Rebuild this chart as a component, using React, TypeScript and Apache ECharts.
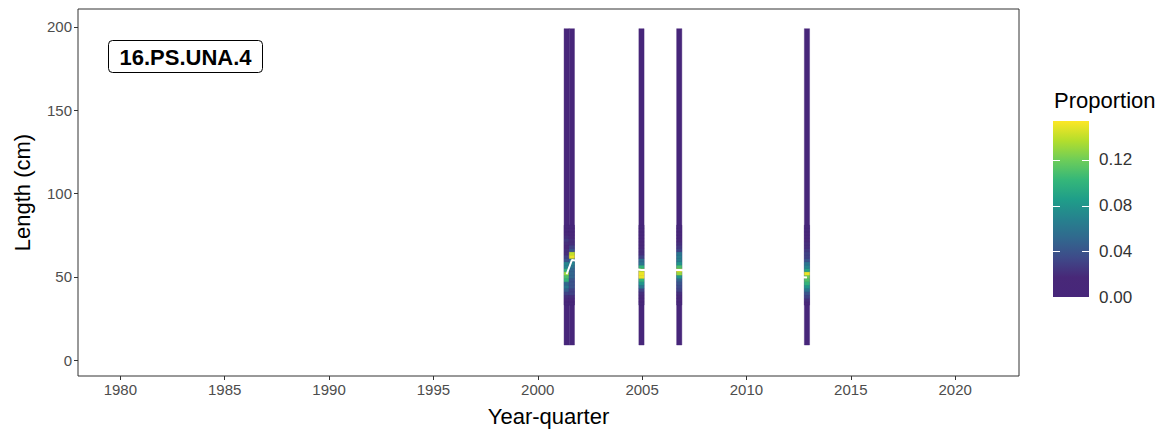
import React, { useEffect, useRef } from 'react';
import * as echarts from 'echarts';

// Year-quarter centres of the sampled columns
const quarters = [2001.385, 2001.635, 2004.97, 2006.78, 2012.9];
// Length bins (cm) that carry non-zero proportions
const binLengths = [34, 36, 38, 40, 42, 44, 46, 48, 50, 52, 54, 56, 58, 60, 62, 64, 66, 68, 70, 72, 74, 76, 78, 80];
const propA = [0.005, 0.01, 0.02, 0.03, 0.045, 0.06, 0.05, 0.1, 0.11, 0.13, 0.1, 0.07, 0.07, 0.04, 0.03, 0.02, 0.02, 0.015, 0.02, 0.025, 0.02, 0.01, 0.005, 0.005];
const propB = [0.005, 0.01, 0.02, 0.03, 0.03, 0.04, 0.04, 0.04, 0.05, 0.05, 0.05, 0.06, 0.07, 0.06, 0.15, 0.14, 0.04, 0.03, 0.02, 0.02, 0.015, 0.01, 0.005, 0.005];
const propC = [0.005, 0.01, 0.015, 0.02, 0.03, 0.06, 0.08, 0.1, 0.15, 0.15, 0.14, 0.1, 0.06, 0.055, 0.03, 0.02, 0.02, 0.015, 0.015, 0.01, 0.01, 0.005, 0.005, 0.005];
const propD = [0.005, 0.01, 0.015, 0.02, 0.03, 0.035, 0.04, 0.05, 0.08, 0.13, 0.15, 0.11, 0.08, 0.065, 0.065, 0.06, 0.03, 0.025, 0.02, 0.015, 0.01, 0.01, 0.005, 0.005];
const propE = [0.01, 0.02, 0.03, 0.04, 0.06, 0.08, 0.1, 0.11, 0.12, 0.15, 0.09, 0.07, 0.06, 0.04, 0.03, 0.03, 0.025, 0.02, 0.02, 0.015, 0.01, 0.01, 0.005, 0.005];
const proportions = [propA, propB, propC, propD, propE];
// Mean length per year-quarter (white line)
const meanLengths = [51.5, 60, 54, 54, 49.5];
// Full sampled length range of every column (cm)
const lengthRange = [9, 199];
const binWidth = 2;
const quarterWidth = 0.25;

const xTicks = [1980, 1985, 1990, 1995, 2000, 2005, 2010, 2015, 2020];
const yTicks = [0, 50, 100, 150, 200];
const legendTicks = [0, 0.04, 0.08, 0.12];
const colorMax = 0.154;
const viridis = ['#47267A', '#482878', '#3E4A89', '#31688E', '#26828E', '#1F9E89', '#35B779', '#6DCD59', '#B4DE2C', '#FDE725'];
const stockLabel = '16.PS.UNA.4';

const FONT = '"Liberation Sans", Arial, sans-serif';

export default function App() {
  const ref = useRef<HTMLDivElement>(null);
  useEffect(() => {
    if (!ref.current) return;
    const chart = echarts.init(ref.current, null, { renderer: 'svg' });

    const cells: number[][] = [];
    quarters.forEach((q, i) => {
      cells.push([q, lengthRange[0], lengthRange[1], 0]);
      binLengths.forEach((L, j) => {
        cells.push([q, L - binWidth / 2, L + binWidth / 2, proportions[i][j]]);
      });
    });

    const barX = 1053, barY = 121, barW = 36, barH = 176;
    const tickY = (v: number) => barY + barH - (v / colorMax) * barH;

    const legendGraphics: any[] = [
      {
        type: 'text', left: 1054, top: 89,
        style: { text: 'Proportion', font: `22px ${FONT}`, fill: '#000' },
      },
      {
        type: 'rect', shape: { x: barX, y: barY, width: barW, height: barH },
        style: {
          fill: {
            type: 'linear', x: 0, y: 1, x2: 0, y2: 0,
            colorStops: viridis.map((c, i) => ({ offset: i / (viridis.length - 1), color: c })),
          },
        },
      },
    ];
    legendTicks.forEach((v) => {
      const y = Math.round(tickY(v)) + 0.5;
      legendGraphics.push({ type: 'line', shape: { x1: barX, y1: y, x2: barX + 7, y2: y }, style: { stroke: '#fff', lineWidth: 1 } });
      legendGraphics.push({ type: 'line', shape: { x1: barX + barW - 7, y1: y, x2: barX + barW, y2: y }, style: { stroke: '#fff', lineWidth: 1 } });
      legendGraphics.push({
        type: 'text', x: 1099, y: tickY(v),
        style: { text: v.toFixed(2), font: `17px ${FONT}`, fill: '#333', verticalAlign: 'middle' },
      });
    });

    const option: any = {
      animation: false,
      backgroundColor: '#fff',
      grid: { left: 78, right: 147, top: 9, bottom: 55, show: true, borderColor: '#333', borderWidth: 1, backgroundColor: 'transparent' },
      xAxis: {
        type: 'value', min: 1977.97, max: 2023.06,
        splitLine: { show: false },
        axisLine: { show: false, onZero: false },
        axisTick: { show: true, customValues: xTicks, length: 4, lineStyle: { color: '#333' } },
        axisLabel: { customValues: xTicks, formatter: (v: number) => String(v), color: '#4D4D4D', fontSize: 15, fontFamily: FONT, margin: 6 },
        name: 'Year-quarter', nameLocation: 'middle', nameGap: 29,
        nameTextStyle: { fontSize: 22, color: '#000', fontFamily: FONT },
      },
      yAxis: {
        type: 'value', min: -9.6, max: 210.8,
        splitLine: { show: false },
        axisLine: { show: false, onZero: false },
        axisTick: { show: true, customValues: yTicks, length: 4, lineStyle: { color: '#333' } },
        axisLabel: { customValues: yTicks, formatter: (v: number) => String(v), color: '#4D4D4D', fontSize: 15, fontFamily: FONT, margin: 6 },
        name: 'Length (cm)', nameLocation: 'middle', nameGap: 45, nameRotate: 90,
        nameTextStyle: { fontSize: 22, color: '#000', fontFamily: FONT },
      },
      visualMap: {
        type: 'continuous', show: false, min: 0, max: colorMax, dimension: 3, seriesIndex: 0,
        inRange: { color: viridis },
      },
      series: [
        {
          type: 'custom',
          data: cells,
          encode: { x: 0, y: [1, 2] },
          clip: true,
          renderItem: (params: any, api: any) => {
            const x = api.value(0), y0 = api.value(1), y1 = api.value(2);
            const a = api.coord([x - quarterWidth / 2, y1]);
            const b = api.coord([x + quarterWidth / 2, y0]);
            const c = api.visual('color');
            return {
              type: 'rect',
              shape: { x: a[0], y: a[1], width: b[0] - a[0], height: b[1] - a[1] },
              style: { fill: c, stroke: c, lineWidth: 0.4 },
            };
          },
        },
        {
          type: 'line',
          data: quarters.map((q, i) => [q, meanLengths[i]]),
          symbol: 'none',
          lineStyle: { color: '#fff', width: 2 },
          z: 5,
        },
      ],
      graphic: [
        {
          type: 'group', left: 108, top: 40,
          children: [
            { type: 'rect', shape: { x: 0, y: 0, width: 154, height: 32, r: 4 }, style: { fill: '#fff', stroke: '#000', lineWidth: 1 } },
            { type: 'text', x: 77, y: 16.5, style: { text: stockLabel, font: `bold 22px ${FONT}`, fill: '#000', align: 'center', verticalAlign: 'middle' } },
          ],
        },
        ...legendGraphics,
      ],
    };
    chart.setOption(option);
    return () => chart.dispose();
  }, []);
  return <div ref={ref} style={{ position: 'fixed', left: 0, top: 0, width: 1166, height: 432 }} />;
}
